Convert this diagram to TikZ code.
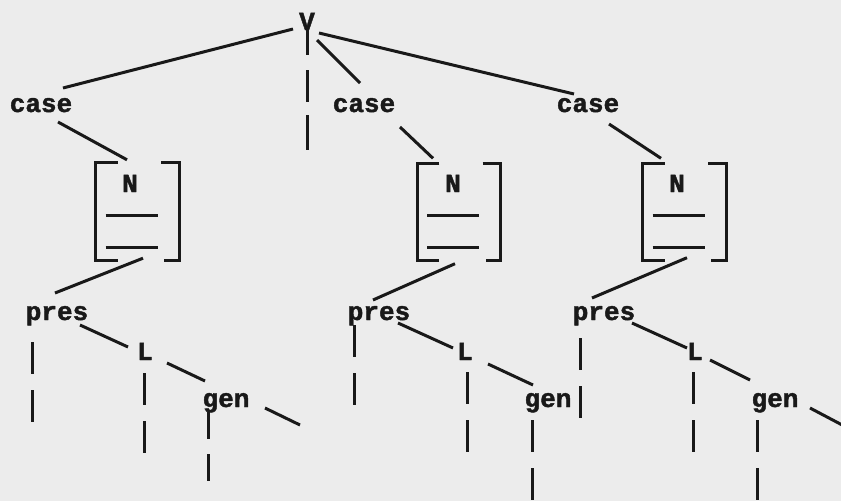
\documentclass[tikz,border=0pt]{standalone}
\usepackage{fontspec}
\newfontfamily\cour{Liberation Mono}[BoldFeatures={FakeBold=1.6}]
\usetikzlibrary{calc}
\definecolor{paper}{RGB}{236,236,236}
\definecolor{ink}{RGB}{25,25,25}
\begin{document}
\begin{tikzpicture}[x=1pt,y=-1pt,
  lbl/.style={font=\cour\bfseries\fontsize{26}{26}\selectfont, text=ink, inner sep=0pt, text height=14pt, text depth=0pt, anchor=base},
  brbox/.style={inner sep=0pt, minimum width=83pt, minimum height=97pt},
  edge/.style={draw=ink, line width=3pt},
  brk/.style={draw=ink, line width=3.2pt, line join=miter},
  ul/.style={draw=ink, line width=3pt},
  trace/.style={draw=ink, line width=3pt, dash pattern=on 32pt off 16pt},
  vtrace/.style={draw=ink, line width=3pt, dash pattern=on 25pt off 15pt on 32pt off 13pt on 35pt off 10pt}]
\fill[paper] (0,0) rectangle (841,501);
\useasboundingbox (0,0) rectangle (841,501);

% nodes
\node[lbl] (V) at (307,30) {V};
\node[lbl] (case1) at (41,112) {case};
\node[lbl] (case2) at (364,112) {case};
\node[lbl] (case3) at (588,112) {case};

\node[brbox] (b1) at (137.5,211.5) {};
\node[brbox] (b2) at (459,212) {};
\node[brbox] (b3) at (684.5,212) {};
\node[lbl] (N1) at (130,192) {N};
\node[lbl] (N2) at (453,192) {N};
\node[lbl] (N3) at (677,192) {N};

\node[lbl] (pres1) at (57,320) {pres};
\node[lbl] (pres2) at (379,320) {pres};
\node[lbl] (pres3) at (604,320) {pres};
\node[lbl] (L1) at (145,360) {L};
\node[lbl] (L2) at (465,360) {L};
\node[lbl] (L3) at (695,360) {L};
\node[lbl] (gen1) at (226,407) {gen};
\node[lbl] (gen2) at (548,407) {gen};
\node[lbl] (gen3) at (775,407) {gen};

\coordinate (Vend) at (307,150);
\coordinate (g1end) at (300,425);
\coordinate (g3end) at (846,427);

% brackets
\foreach \b in {b1,b2,b3}{
  \draw[brk] ($(\b.north west)+(22,0)$) -| (\b.south west) -- ++(22,0);
  \draw[brk] ($(\b.north east)+(-18,0)$) -| (\b.south east) -- ++(-15,0);
  \draw[ul] ($(\b.center)+(-32,3.5)$) -- ($(\b.center)+(20,3.5)$);
  \draw[ul] ($(\b.center)+(-32,35.5)$) -- ($(\b.center)+(20,35.5)$);
}

% connectors from V
\draw[edge] ($(V)+(-14,6)$) -- ($(case1)+(22,-17)$);
\draw[edge] ($(V)+(10,17)$) -- ($(case2)+(-4,-22)$);
\draw[edge] ($(V)+(12,10)$) -- ($(case3)+(-14,-11)$);
\draw[vtrace] (V.south) -- (Vend);

% case to brackets
\draw[edge] ($(case1)+(17,17)$) -- ($(b1.north)+(-10.5,-3)$);
\draw[edge] ($(case2)+(36,22)$) -- ($(b2.north)+(-26,-5)$);
\draw[edge] ($(case3)+(21,19)$) -- ($(b3.north)+(-23.5,-5)$);

% brackets to pres
\draw[edge] ($(b1.south)+(5.5,-2)$) -- ($(pres1)+(-2,-20)$);
\draw[edge] ($(b2.south)+(-4,3)$) -- ($(pres2)+(-6,-13)$);
\draw[edge] ($(b3.south)+(2.5,-3)$) -- ($(pres3)+(-12,-15)$);

% pres to L
\draw[edge] ($(pres1)+(23,12)$) -- ($(L1)+(-17,-6)$);
\draw[edge] ($(pres2)+(19,10)$) -- ($(L2)+(-12,-5)$);
\draw[edge] ($(pres3)+(28,10)$) -- ($(L3)+(-8,-5)$);

% L to gen
\draw[edge] ($(L1)+(22,10)$) -- ($(gen1)+(-21,-19)$);
\draw[edge] ($(L2)+(23,11)$) -- ($(gen2)+(-15,-15)$);
\draw[edge] ($(L3)+(15,7)$) -- ($(gen3)+(-25,-20)$);

% gen free ends
\draw[edge] ($(gen1)+(39,8)$) -- (g1end);
\draw[edge] ($(gen3)+(35,8)$) -- (g3end);

% dashed traces
\draw[trace] ($(pres1)+(-25,29)$) -- ++(0,81);
\draw[trace] ($(pres2)+(-25,12)$) -- ++(0,82);
\draw[trace] ($(pres3)+(-24,25)$) -- ++(0,84);
\draw[trace] ($(L1)+(-1,20)$) -- ++(0,81);
\draw[trace] ($(L2)+(2,19)$) -- ++(0,81);
\draw[trace] ($(L3)+(-2,19)$) -- ++(0,81);
\draw[trace, dash pattern=on 27pt off 15pt] ($(gen1)+(-18,12)$) -- ++(0,75);
\draw[trace] ($(gen2)+(-16,20)$) -- ++(0,81);
\draw[trace] ($(gen3)+(-18,20)$) -- ++(0,81);
\end{tikzpicture}
\end{document}
